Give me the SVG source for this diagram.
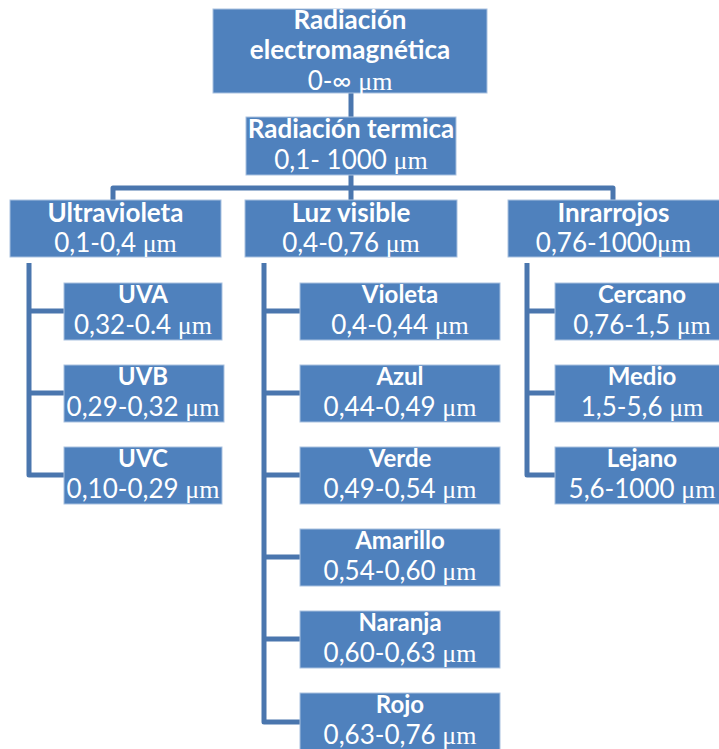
<svg xmlns="http://www.w3.org/2000/svg" width="719" height="749" viewBox="0 0 719 749">
<style>
.box{fill:#4F81BD;stroke:#A9C1E0;stroke-width:1}
.ln{fill:none;stroke:#4A76AE;stroke-width:5;stroke-linejoin:round}
.t{font-family:Lato,"Liberation Sans",sans-serif;font-weight:bold;fill:#fff;text-anchor:middle}
.n{font-family:Lato,"Liberation Sans",sans-serif;fill:#fff;text-anchor:middle}
.u{font-family:"Liberation Serif","DejaVu Serif",serif}
.t1{font-size:26px}
.n1{font-size:26px}
.t3{font-size:24px}
.n3{font-size:26px}
</style>
<rect width="719" height="749" fill="#fff"/>
<g id="connectors">
<path class="ln" d="M351 93V117"/>
<path class="ln" d="M113 200V188H613V200M351 175V200"/>
<path class="ln" d="M29 263V475H64M29 311H64M29 393H64"/>
<path class="ln" d="M264 263V722H300M264 311H300M264 393H300M264 475H300M264 557H300M264 639H300"/>
<path class="ln" d="M527 263V475H555M527 311H555M527 393H555"/>
</g>
<g id="n-em"><rect class="box" x="213" y="9" width="274" height="84"/>
<text class="t t1" x="350" y="29">Radiación</text>
<text class="t t1" x="350" y="59">electromagnética</text>
<text class="n n1" x="350" y="90">0-∞ <tspan class="u">μm</tspan></text></g>
<g id="n-term"><rect class="box" x="246" y="117" width="210" height="58"/>
<text class="t t1" x="351" y="138">Radiación termica</text>
<text class="n n1" x="351" y="169">0,1- 1000 <tspan class="u">μm</tspan></text></g>
<g id="n-uv"><rect class="box" x="10" y="200" width="211" height="57"/>
<text class="t t1" x="115.5" y="222">Ultravioleta</text>
<text class="n n1" x="115.5" y="252">0,1-0,4 <tspan class="u">μm</tspan></text></g>
<g id="n-vis"><rect class="box" x="245" y="200" width="212" height="57"/>
<text class="t t1" x="351" y="222">Luz visible</text>
<text class="n n1" x="351" y="252">0,4-0,76 <tspan class="u">μm</tspan></text></g>
<g id="n-ir"><rect class="box" x="508" y="200" width="212" height="57"/>
<text class="t t1" x="613.5" y="222">Inrarrojos</text>
<text class="n n1" x="613.5" y="252">0,76-1000<tspan class="u">μm</tspan></text></g>
<g id="n-uva"><rect class="box" x="64" y="283" width="158" height="57"/>
<text class="t t3" x="143" y="303">UVA</text>
<text class="n n3" x="143" y="334">0,32-0.4 <tspan class="u">μm</tspan></text></g>
<g id="n-uvb"><rect class="box" x="64" y="365" width="160" height="57"/>
<text class="t t3" x="143" y="385">UVB</text>
<text class="n n3" x="143" y="416">0,29-0,32 <tspan class="u">μm</tspan></text></g>
<g id="n-uvc"><rect class="box" x="64" y="447" width="158" height="57"/>
<text class="t t3" x="143" y="467">UVC</text>
<text class="n n3" x="143" y="498">0,10-0,29 <tspan class="u">μm</tspan></text></g>
<g id="n-violeta"><rect class="box" x="300" y="283" width="200" height="57"/>
<text class="t t3" x="400" y="303">Violeta</text>
<text class="n n3" x="400" y="334">0,4-0,44 <tspan class="u">μm</tspan></text></g>
<g id="n-azul"><rect class="box" x="300" y="365" width="200" height="57"/>
<text class="t t3" x="400" y="385">Azul</text>
<text class="n n3" x="400" y="416">0,44-0,49 <tspan class="u">μm</tspan></text></g>
<g id="n-verde"><rect class="box" x="300" y="447" width="200" height="57"/>
<text class="t t3" x="400" y="467">Verde</text>
<text class="n n3" x="400" y="498">0,49-0,54 <tspan class="u">μm</tspan></text></g>
<g id="n-amarillo"><rect class="box" x="300" y="529" width="200" height="57"/>
<text class="t t3" x="400" y="549">Amarillo</text>
<text class="n n3" x="400" y="580">0,54-0,60 <tspan class="u">μm</tspan></text></g>
<g id="n-naranja"><rect class="box" x="300" y="611" width="200" height="57"/>
<text class="t t3" x="400" y="631">Naranja</text>
<text class="n n3" x="400" y="662">0,60-0,63 <tspan class="u">μm</tspan></text></g>
<g id="n-rojo"><rect class="box" x="300" y="693" width="200" height="57"/>
<text class="t t3" x="400" y="713">Rojo</text>
<text class="n n3" x="400" y="744">0,63-0,76 <tspan class="u">μm</tspan></text></g>
<g id="n-cercano"><rect class="box" x="555" y="283" width="175" height="57"/>
<text class="t t3" x="642" y="303">Cercano</text>
<text class="n n3" x="642" y="334">0,76-1,5 <tspan class="u">μm</tspan></text></g>
<g id="n-medio"><rect class="box" x="555" y="365" width="175" height="57"/>
<text class="t t3" x="642" y="385">Medio</text>
<text class="n n3" x="642" y="416">1,5-5,6 <tspan class="u">μm</tspan></text></g>
<g id="n-lejano"><rect class="box" x="555" y="447" width="175" height="57"/>
<text class="t t3" x="642" y="467">Lejano</text>
<text class="n n3" x="642" y="498">5,6-1000 <tspan class="u">μm</tspan></text></g>
</svg>
